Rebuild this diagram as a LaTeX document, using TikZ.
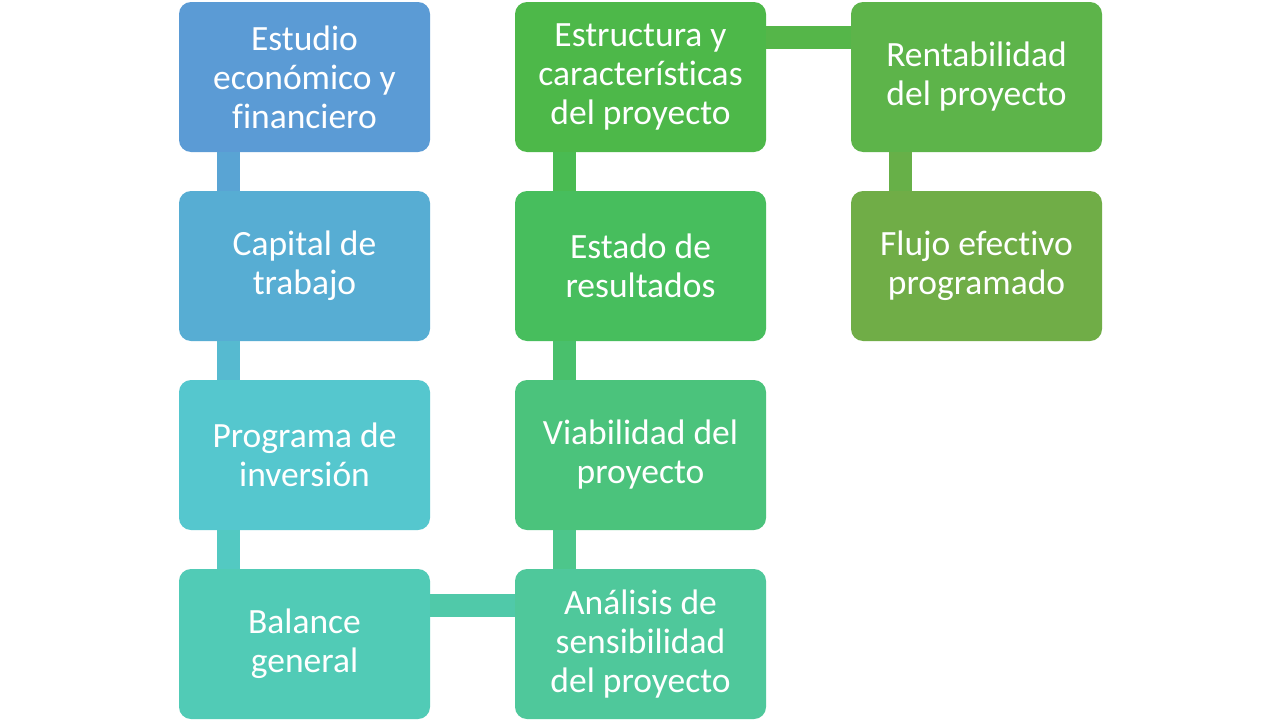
\documentclass[tikz,border=0pt]{standalone}
\usepackage{fontspec}
\setmainfont{Carlito}[Ligatures=NoCommon]
\definecolor{cA}{HTML}{5B9BD5}
\definecolor{cB}{HTML}{57ADD3}
\definecolor{cC}{HTML}{55C7CE}
\definecolor{cD}{HTML}{51CBB6}
\definecolor{cE}{HTML}{4FC89B}
\definecolor{cF}{HTML}{4BC37C}
\definecolor{cG}{HTML}{47BE5D}
\definecolor{cH}{HTML}{4DB849}
\definecolor{cI}{HTML}{5DB44A}
\definecolor{cJ}{HTML}{70AD47}
\definecolor{kA}{HTML}{59A4D4}
\definecolor{kB}{HTML}{56BAD0}
\definecolor{kC}{HTML}{53C9C2}
\definecolor{kD}{HTML}{50C9A9}
\definecolor{kE}{HTML}{4DC68B}
\definecolor{kF}{HTML}{49C06C}
\definecolor{kG}{HTML}{4ABB52}
\definecolor{kH}{HTML}{55B649}
\definecolor{kI}{HTML}{67B048}
\tikzset{
  box/.style={rounded corners=12pt, minimum width=251pt, minimum height=150pt,
    inner sep=0pt, text=white, align=center, font=\fontsize{35.5}{39}\selectfont},
  bar/.style={line width=23pt}
}
\begin{document}
\begin{tikzpicture}[x=1pt,y=-1pt]
\useasboundingbox[fill=white] (0,0) rectangle (1280,720);
\node[box, fill=cA] (a) at (304.5,77) {Estudio\\económico y\\financiero};
\node[box, fill=cB] (b) at (304.5,266) {Capital de\\trabajo};
\node[box, fill=cC] (c) at (304.5,455) {Programa de\\inversión};
\node[box, fill=cD] (d) at (304.5,644) {Balance\\general};
\node[box, fill=cE] (e) at (640.5,644) {Análisis de\\sensibilidad\\del proyecto};
\node[box, fill=cF] (f) at (640.5,455) {Viabilidad del\\proyecto};
\node[box, fill=cG] (g) at (640.5,266) {Estado de\\resultados};
\node[box, fill=cH] (h) at (640.5,77) {Estructura y\\características\\del proyecto};
\node[box, fill=cI] (i) at (976.5,77) {Rentabilidad\\del proyecto};
\node[box, fill=cJ] (j) at (976.5,266) {Flujo efectivo\\programado};
\draw[bar, kA] ([xshift=-76pt]a.south) -- ([xshift=-76pt]b.north);
\draw[bar, kB] ([xshift=-76pt]b.south) -- ([xshift=-76pt]c.north);
\draw[bar, kC] ([xshift=-76pt]c.south) -- ([xshift=-76pt]d.north);
\draw[bar, kD] ([yshift=39pt]d.east) -- ([yshift=39pt]e.west);
\draw[bar, kE] ([xshift=-76pt]e.north) -- ([xshift=-76pt]f.south);
\draw[bar, kF] ([xshift=-76pt]f.north) -- ([xshift=-76pt]g.south);
\draw[bar, kG] ([xshift=-76pt]g.north) -- ([xshift=-76pt]h.south);
\draw[bar, kH] ([yshift=40pt]h.east) -- ([yshift=40pt]i.west);
\draw[bar, kI] ([xshift=-76pt]i.south) -- ([xshift=-76pt]j.north);
\end{tikzpicture}
\end{document}
